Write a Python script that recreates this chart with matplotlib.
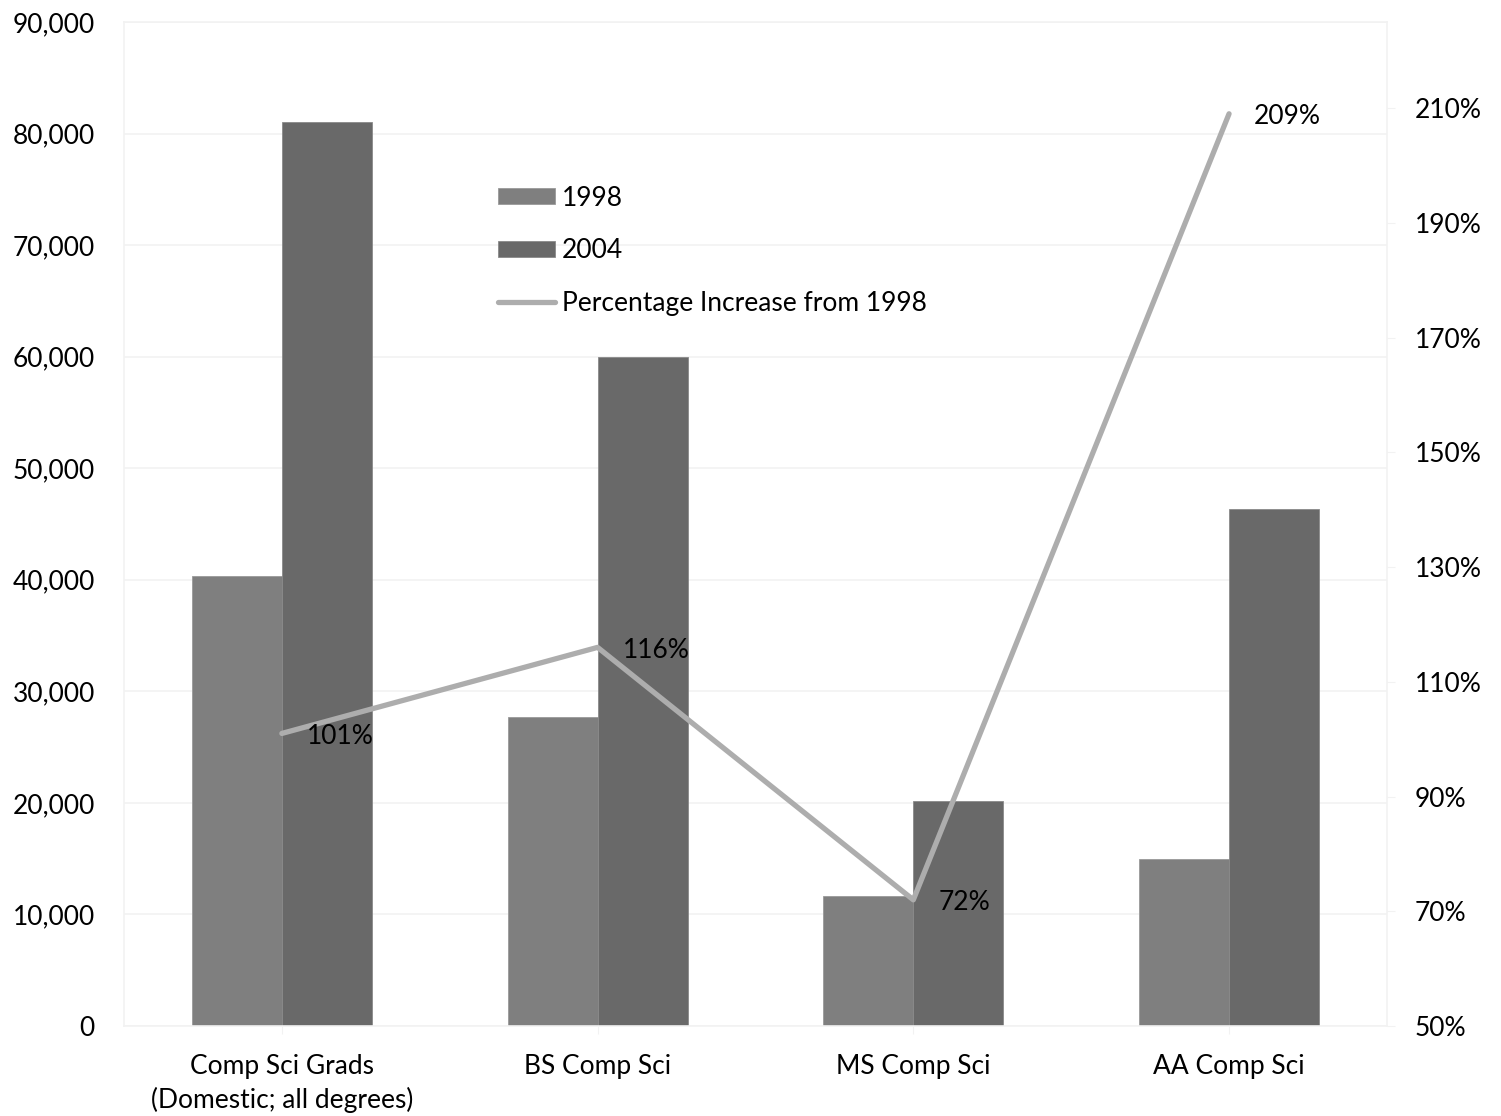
import numpy as np
import matplotlib.pyplot as plt
from matplotlib.ticker import FuncFormatter

plt.rcParams['font.family'] = ['Lato', 'DejaVu Sans']

# datos
categories = ["Comp Sci Grads\n(Domestic; all degrees)", "BS Comp Sci", "MS Comp Sci", "AA Comp Sci"]
grads_1998 = [40300, 27700, 11700, 15000]
grads_2004 = [81050, 59950, 20150, 46350]
pct_increase = [101, 116, 72, 209]
pct_labels = ["101%", "116%", "72%", "209%"]

x = np.arange(len(categories))
w = 0.285
fs = 19

fig = plt.figure(figsize=(15.01, 11.16), dpi=100)
ax = fig.add_axes([0.0826, 0.0806, 0.8414, 0.8997])

b1 = ax.bar(x - w / 2, grads_1998, w, color="#7f7f7f", edgecolor="#9a9a9a", linewidth=0.6, label="1998", zorder=2)
b2 = ax.bar(x + w / 2, grads_2004, w, color="#696969", edgecolor="#8a8a8a", linewidth=0.6, label="2004", zorder=2)

ax.set_xlim(-0.5, 3.5)
ax.set_ylim(0, 90000)
ax.set_yticks(range(0, 90001, 10000))
ax.yaxis.set_major_formatter(FuncFormatter(lambda v, p: f"{int(v):,}"))
ax.grid(axis="y", color="#f2f2f2", linewidth=1.2, zorder=0)
ax.set_xticks(x)
ax.set_xticklabels(categories, fontsize=fs, linespacing=1.4)
ax.tick_params(axis="y", labelsize=fs, length=0, pad=21)
ax.tick_params(axis="x", length=6, color="#f2f2f2", pad=14)
for s in ax.spines.values():
    s.set_color("#f2f2f2")
    s.set_linewidth(1.2)

ax2 = ax.twinx()
ln, = ax2.plot(x, pct_increase, color="#adadad", linewidth=3.8, solid_capstyle="round",
               label="Percentage Increase from 1998", zorder=3)
ax2.set_ylim(50, 225)
ax2.set_yticks(range(50, 211, 20))
ax2.yaxis.set_major_formatter(FuncFormatter(lambda v, p: f"{int(v)}%"))
ax2.tick_params(axis="y", labelsize=fs, length=6, color="#f2f2f2", pad=14)
for s in ax2.spines.values():
    s.set_visible(False)

for xi, yi, lab in zip(x, pct_increase, pct_labels):
    ax2.annotate(lab, (xi, yi), xytext=(18, -2), textcoords="offset points",
                 va="center", ha="left", fontsize=fs)

leg = ax2.legend([b1, b2, ln], ["1998", "2004", "Percentage Increase from 1998"],
                 loc="upper left", bbox_to_anchor=(0.2874, 0.8476), frameon=False,
                 fontsize=fs, handlelength=2.16, handleheight=0.57, handletextpad=0.27,
                 labelspacing=1.05, borderaxespad=0)

fig.savefig("out.png", dpi=100)
